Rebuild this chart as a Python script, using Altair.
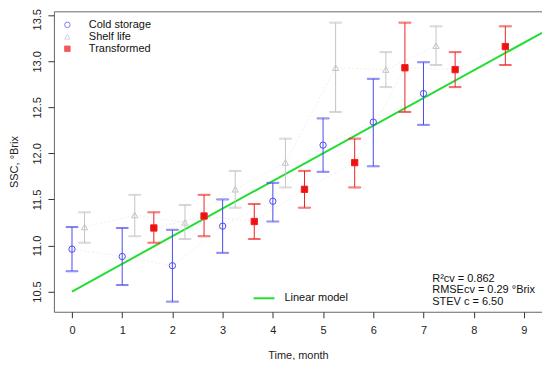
import altair as alt
import pandas as pd

# ---- data ----
cold_x = [0, 1, 2, 3, 4, 5, 6, 7]
cold_y = [10.96, 10.88, 10.78, 11.21, 11.48, 12.09, 12.34, 12.65]
cold_lo = [10.72, 10.57, 10.39, 10.92, 11.26, 11.80, 11.86, 12.31]
cold_hi = [11.20, 11.19, 11.17, 11.50, 11.68, 12.38, 12.81, 12.99]

shelf_x = [0.25, 1.25, 2.25, 3.25, 4.25, 5.25, 6.25, 7.25]
shelf_y = [11.20, 11.33, 11.25, 11.61, 11.90, 12.93, 12.91, 13.17]
shelf_lo = [11.03, 11.10, 11.07, 11.41, 11.63, 12.45, 12.72, 12.96]
shelf_hi = [11.36, 11.55, 11.44, 11.81, 12.16, 13.42, 13.10, 13.38]

trans_x = [1.63, 2.63, 3.63, 4.63, 5.63, 6.63, 7.63, 8.63]
trans_y = [11.19, 11.32, 11.26, 11.61, 11.90, 12.93, 12.91, 13.16]
trans_lo = [11.03, 11.10, 11.07, 11.41, 11.63, 12.45, 12.72, 12.96]
trans_hi = [11.36, 11.55, 11.45, 11.81, 12.16, 13.42, 13.10, 13.38]

model_x = [0, 9.36]
model_y = [10.50, 13.31]

series_names = ["Cold storage", "Shelf life", "Transformed"]
series_stroke = ["#4a4aee", "#c4c4c4", "#ee2222"]
series_fill = ["transparent", "transparent", "#ee1111"]
series_shape = ["circle", "triangle-up", "square"]

x_ticks = [0, 1, 2, 3, 4, 5, 6, 7, 8, 9]
y_ticks = [10.5, 11.0, 11.5, 12.0, 12.5, 13.0, 13.5]

annotation = "R\u00b2cv = 0.862\nRMSEcv = 0.29 \u00b0Brix\nSTEV c = 6.50"

# ---- tables ----
rows = []
for name, xs, ys, los, his in [
    ("Cold storage", cold_x, cold_y, cold_lo, cold_hi),
    ("Shelf life", shelf_x, shelf_y, shelf_lo, shelf_hi),
    ("Transformed", trans_x, trans_y, trans_lo, trans_hi),
]:
    for x, y, lo, hi in zip(xs, ys, los, his):
        rows.append({"series": name, "t": x, "ssc": y, "lo": lo, "hi": hi})
df = pd.DataFrame(rows)
model_df = pd.DataFrame({"t": model_x, "ssc": model_y, "model": ["Linear model"] * 2})

FONT = "Liberation Sans"
W, H = 489, 301

xscale = alt.Scale(domain=[-0.36, 9.36], nice=False, zero=False)
yscale = alt.Scale(domain=[10.28, 13.543], nice=False, zero=False)

xenc = alt.X("t:Q", scale=xscale, axis=alt.Axis(
    values=x_ticks, title="Time, month", domain=False, grid=False,
    tickSize=6, tickColor="#333", labelFont=FONT, labelFontSize=11,
    labelColor="#222", labelPadding=7, titleFont=FONT, titleFontSize=11,
    titleFontWeight="normal", titleColor="#222", titlePadding=14, format="d"))
yenc = alt.Y("ssc:Q", scale=yscale, axis=alt.Axis(
    values=y_ticks, title="SSC, \u00b0Brix", domain=False, grid=False,
    tickSize=6, tickColor="#333", labelFont=FONT, labelFontSize=11,
    labelColor="#222", labelAngle=270, labelAlign="center",
    labelBaseline="bottom", labelPadding=5, format=".1f",
    labelOffset={"condition": {"test": "datum.value == 13.5", "value": 4}, "value": 0},
    titleFont=FONT, titleFontSize=11, titleFontWeight="normal",
    titleColor="#222", titlePadding=12))

base = alt.Chart(df)

stroke_scale = alt.Scale(domain=series_names, range=series_stroke)
fill_scale = alt.Scale(domain=series_names, range=series_fill)
shape_scale = alt.Scale(domain=series_names, range=series_shape)

legend_main = alt.Legend(
    title=None, orient="none", legendX=8, legendY=8, padding=0,
    labelFont=FONT, labelFontSize=11, labelColor="#111", labelOffset=16,
    symbolSize=30, rowPadding=0, symbolStrokeWidth=1)

connect = base.mark_line(strokeWidth=1, strokeDash=[2, 2]).encode(
    x=xenc, y=yenc, detail="series:N",
    color=alt.value("#efefef"))

rules = base.mark_rule(strokeWidth=1).encode(
    x="t:Q", y="lo:Q", y2="hi:Q",
    stroke=alt.Stroke("series:N", scale=stroke_scale, legend=legend_main))
caps_lo = base.mark_tick(orient="horizontal", size=12, thickness=1).encode(
    x="t:Q", y="lo:Q",
    stroke=alt.Stroke("series:N", scale=stroke_scale, legend=legend_main),
    fill=alt.value("transparent"))
caps_hi = base.mark_tick(orient="horizontal", size=12, thickness=1).encode(
    x="t:Q", y="hi:Q",
    stroke=alt.Stroke("series:N", scale=stroke_scale, legend=legend_main),
    fill=alt.value("transparent"))

model_line = alt.Chart(model_df).mark_line(strokeWidth=2).encode(
    x="t:Q", y="ssc:Q",
    color=alt.Color("model:N", scale=alt.Scale(range=["#22dd33"]),
                    legend=alt.Legend(title=None, orient="none", legendX=199,
                                      legendY=276, padding=0, symbolType="stroke",
                                      symbolSize=441, symbolStrokeWidth=2,
                                      labelFont=FONT, labelFontSize=11,
                                      labelColor="#111", labelOffset=9)))

points = base.mark_point(size=40, strokeWidth=1, opacity=1).encode(
    x="t:Q", y="ssc:Q",
    stroke=alt.Stroke("series:N", scale=stroke_scale, legend=legend_main),
    fill=alt.Fill("series:N", scale=fill_scale, legend=legend_main),
    shape=alt.Shape("series:N", scale=shape_scale, legend=legend_main))

notes = alt.Chart(pd.DataFrame({"txt": [annotation]})).mark_text(
    align="left", baseline="top", font=FONT, fontSize=11, color="#111",
    lineBreak="\n", lineHeight=11.5).encode(
    x=alt.value(379), y=alt.value(262), text="txt:N")

chart = alt.layer(connect, model_line, rules, caps_lo, caps_hi, points, notes).resolve_scale(
    color="independent").properties(
    width=W, height=H,
    autosize=alt.AutoSizeParams(type="none"),
    padding={"left": 46, "top": 3, "right": 0, "bottom": 48},
    background="white",
).configure_view(stroke="#666", strokeWidth=1)

chart.save("out.html", embed_options={"renderer": "svg", "actions": False})
